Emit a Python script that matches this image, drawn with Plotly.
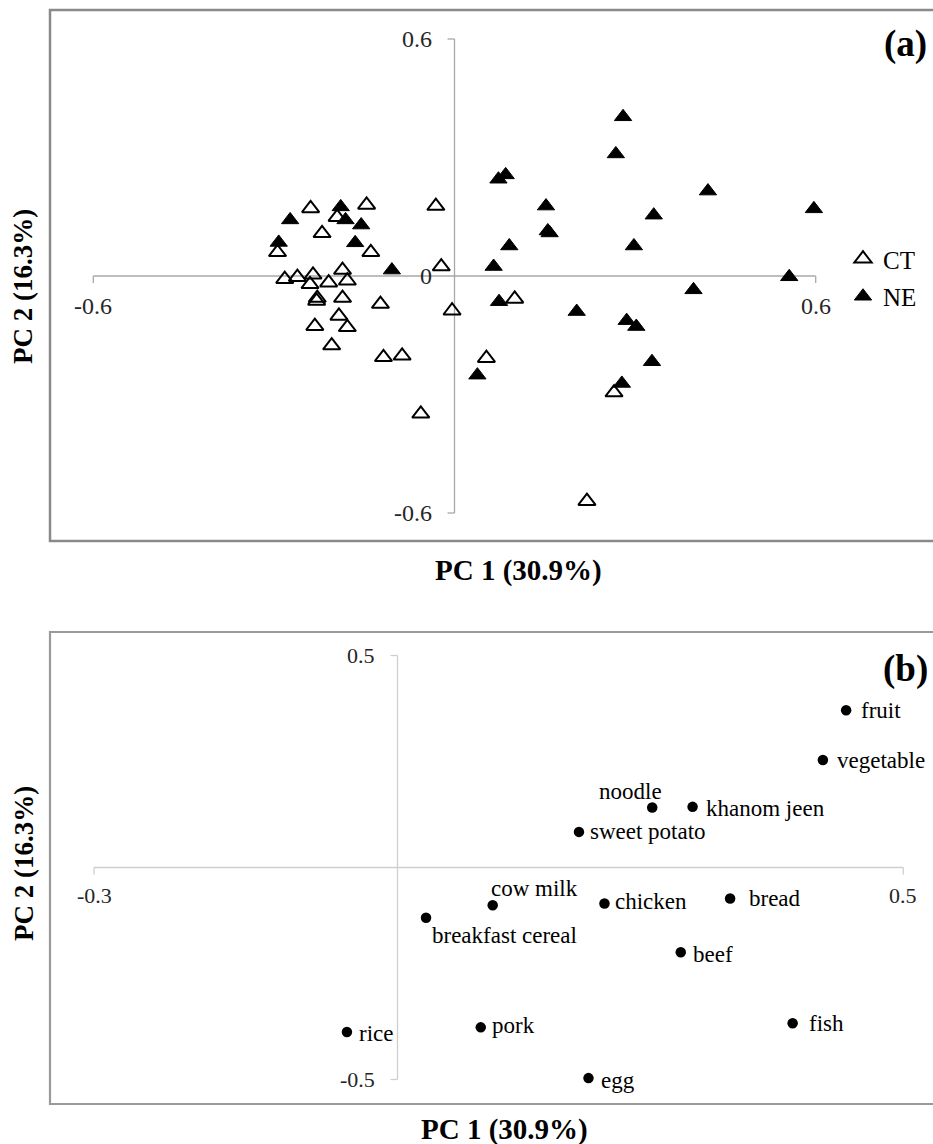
import plotly.graph_objects as go

# ---------------- data ----------------
# Panel (a): PCA scores
ct_x = [-0.239, -0.146, -0.031, -0.195, -0.220, -0.139, -0.294, -0.022, -0.282, -0.261,
        -0.235, -0.186, -0.178, -0.209, -0.240, -0.228, -0.229, -0.186, -0.123, -0.004,
        0.100, -0.192, -0.232, -0.178, -0.204, -0.118, -0.087, 0.053, 0.265, -0.056, 0.220]
ct_y = [0.171, 0.180, 0.177, 0.149, 0.108, 0.060, 0.060, 0.024, -0.008, -0.003,
        0.003, 0.015, -0.012, -0.017, -0.021, -0.056, -0.063, -0.056, -0.071, -0.088,
        -0.058, -0.101, -0.127, -0.130, -0.176, -0.206, -0.202, -0.208, -0.295, -0.349, -0.570]
ne_x = [0.280, 0.268, 0.085, 0.073, 0.152, 0.331, 0.155, 0.158, 0.298, 0.091,
        0.065, 0.397, 0.074, 0.203, 0.286, 0.302, 0.328, 0.278, 0.038, -0.189,
        -0.181, -0.155, -0.273, -0.292, -0.165, -0.104, 0.421, 0.597, 0.556]
ne_y = [0.403, 0.309, 0.256, 0.245, 0.177, 0.154, 0.114, 0.109, 0.076, 0.076,
        0.024, -0.035, -0.065, -0.090, -0.113, -0.128, -0.217, -0.272, -0.251, 0.175,
        0.142, 0.129, 0.142, 0.085, 0.084, 0.015, 0.215, 0.170, -0.002]

# Panel (b): loadings
foods = ["fruit", "vegetable", "noodle", "khanom jeen", "sweet potato", "cow milk",
         "chicken", "bread", "breakfast cereal", "beef", "rice", "pork", "fish", "egg"]
load_x = [0.4435, 0.4205, 0.2518, 0.2917, 0.1794, 0.0941, 0.2046, 0.3288, 0.0282,
          0.2800, -0.0500, 0.0823, 0.3906, 0.1888]
load_y = [0.371, 0.2535, 0.1415, 0.143, 0.084, -0.089, -0.085, -0.073, -0.1186,
          -0.1998, -0.388, -0.377, -0.3675, -0.4967]

# axis ticks
a_xticks = [-0.6, 0.6]
a_yticks = [0.6, 0, -0.6]
b_xticks = [-0.3, 0.5]
b_yticks = [0.5, -0.5]
x_title = "PC 1 (30.9%)"
y_title = "PC 2 (16.3%)"

W, H = 933, 1144
FONT = "Liberation Serif"


def px(xp):
    return xp / W


def py(yp):
    return 1 - yp / H


fig = go.Figure()

fig.add_trace(go.Scatter(
    x=ct_x, y=ct_y, mode="markers", name="CT", xaxis="x", yaxis="y",
    legendgroup="ct",
    marker=dict(symbol="triangle-up-open", size=15, color="black",
                line=dict(color="black", width=2))))
fig.add_trace(go.Scatter(
    x=ne_x, y=ne_y, mode="markers", name="NE", xaxis="x", yaxis="y",
    legendgroup="ne",
    marker=dict(symbol="triangle-up", size=15, color="black",
                line=dict(color="black", width=1))))
fig.add_trace(go.Scatter(
    x=load_x, y=load_y, mode="markers", name="foods", xaxis="x2", yaxis="y2",
    showlegend=False, marker=dict(symbol="circle", size=10.5, color="black")))

shapes = []
annotations = []

# panel borders
shapes.append(dict(type="rect", xref="paper", yref="paper",
                   x0=px(50), x1=px(945), y0=py(541), y1=py(10),
                   line=dict(color="#8a8a8a", width=2.5), layer="below"))
shapes.append(dict(type="rect", xref="paper", yref="paper",
                   x0=px(50), x1=px(945), y0=py(1104), y1=py(632),
                   line=dict(color="#9a9a9a", width=2.2), layer="below"))

AX_A = "#a8a8a8"
AX_B = "#cfcfcf"


def cross_axes(xr, yr, xlo, xhi, ylo, yhi, col):
    shapes.append(dict(type="line", xref=xr, yref=yr, x0=xlo, x1=xhi, y0=0, y1=0,
                       line=dict(color=col, width=1.3), layer="below"))
    shapes.append(dict(type="line", xref=xr, yref=yr, x0=0, x1=0, y0=ylo, y1=yhi,
                       line=dict(color=col, width=1.3), layer="below"))
    for xv in (xlo, xhi):
        shapes.append(dict(type="line", xref=xr, yref=yr, ysizemode="pixel", yanchor=0,
                           x0=xv, x1=xv, y0=0, y1=-7,
                           line=dict(color=col, width=1.3), layer="below"))
    for yv in (ylo, yhi):
        shapes.append(dict(type="line", xref=xr, yref=yr, xsizemode="pixel", xanchor=0,
                           x0=-7, x1=0, y0=yv, y1=yv,
                           line=dict(color=col, width=1.3), layer="below"))


cross_axes("x", "y", a_xticks[0], a_xticks[-1], a_yticks[-1], a_yticks[0], AX_A)
cross_axes("x2", "y2", b_xticks[0], b_xticks[-1], b_yticks[-1], b_yticks[0], AX_B)

TICKCOL = "#262626"
for v in a_xticks:
    annotations.append(dict(xref="x", yref="y", x=v, y=0, text=f"{v:g}", showarrow=False,
                            xanchor="center", yanchor="middle", yshift=-30,
                            font=dict(family=FONT, size=24, color=TICKCOL)))
for v in a_yticks:
    annotations.append(dict(xref="x", yref="y", x=0, y=v, text=f"{v:g}", showarrow=False,
                            xanchor="right", yanchor="middle", xshift=-21,
                            font=dict(family=FONT, size=24, color=TICKCOL)))
for v in b_xticks:
    annotations.append(dict(xref="x2", yref="y2", x=v, y=0, text=f"{v:g}", showarrow=False,
                            xanchor="center", yanchor="middle", yshift=-28,
                            font=dict(family=FONT, size=22, color=TICKCOL)))
for v in b_yticks:
    annotations.append(dict(xref="x2", yref="y2", x=0, y=v, text=f"{v:g}", showarrow=False,
                            xanchor="right", yanchor="middle", xshift=-21,
                            font=dict(family=FONT, size=22, color=TICKCOL)))

# food labels
lab_cfg = {
    "fruit": dict(xanchor="left", xshift=13, yshift=0),
    "vegetable": dict(xanchor="left", xshift=12, yshift=0),
    "noodle": dict(xanchor="center", xshift=-22, yshift=16),
    "khanom jeen": dict(xanchor="left", xshift=11, yshift=-2),
    "sweet potato": dict(xanchor="left", xshift=9, yshift=0),
    "cow milk": dict(xanchor="left", xshift=-4, yshift=17),
    "chicken": dict(xanchor="left", xshift=9, yshift=2),
    "bread": dict(xanchor="left", xshift=17, yshift=0),
    "breakfast cereal": dict(xanchor="left", xshift=4, yshift=-18),
    "beef": dict(xanchor="left", xshift=10, yshift=-2),
    "rice": dict(xanchor="left", xshift=10, yshift=-1),
    "pork": dict(xanchor="left", xshift=9, yshift=2),
    "fish": dict(xanchor="left", xshift=14, yshift=0),
    "egg": dict(xanchor="left", xshift=11, yshift=-2),
}
for name, xv, yv in zip(foods, load_x, load_y):
    c = lab_cfg[name]
    annotations.append(dict(xref="x2", yref="y2", x=xv, y=yv, text=name, showarrow=False,
                            xanchor=c["xanchor"], yanchor="middle",
                            xshift=c["xshift"], yshift=c["yshift"],
                            font=dict(family=FONT, size=23, color="black")))

# panel letters
for txt, yp in (("(a)", 44), ("(b)", 669)):
    annotations.append(dict(xref="paper", yref="paper", x=px(905), y=py(yp), text=f"<b>{txt}</b>",
                            showarrow=False, xanchor="center", yanchor="middle",
                            font=dict(family=FONT, size=37, color="black")))

# axis titles
for xc, yc in ((518, 570), (504, 1129)):
    annotations.append(dict(xref="paper", yref="paper", x=px(xc), y=py(yc), text=f"<b>{x_title}</b>",
                            showarrow=False, xanchor="center", yanchor="middle",
                            font=dict(family=FONT, size=29, color="black")))
for xc, yc in ((23, 287), (24, 864)):
    annotations.append(dict(xref="paper", yref="paper", x=px(xc), y=py(yc), text=f"<b>{y_title}</b>",
                            showarrow=False, xanchor="center", yanchor="middle", textangle=-90,
                            font=dict(family=FONT, size=27, color="black")))

hidden = dict(showgrid=False, zeroline=False, showticklabels=False, showline=False,
              ticks="", fixedrange=True)

fig.update_layout(
    width=W, height=H,
    margin=dict(l=0, r=0, t=0, b=0),
    paper_bgcolor="white", plot_bgcolor="rgba(0,0,0,0)",
    xaxis=dict(domain=[0, 1], range=[-454.5 / 602, (W - 454.5) / 602], anchor="y", **hidden),
    yaxis=dict(domain=[py(560), 1], range=[-(560 - 276) / 395, 276 / 395], anchor="x", **hidden),
    xaxis2=dict(domain=[0, 1], range=[-397.5 / 1011.6, (W - 397.5) / 1011.6], anchor="y2", **hidden),
    yaxis2=dict(domain=[0, py(600)], range=[-(H - 867.5) / 424, (867.5 - 600) / 424], anchor="x2", **hidden),
    shapes=shapes,
    annotations=annotations,
    showlegend=True,
    legend=dict(x=px(843), y=py(236), xanchor="left", yanchor="top",
                bgcolor="rgba(0,0,0,0)", tracegroupgap=2,
                font=dict(family=FONT, size=25, color="black")),
)

fig.write_html("out.html",
               config={"displayModeBar": False},
               post_script="document.body.style.margin='0';document.body.style.overflow='hidden';")
